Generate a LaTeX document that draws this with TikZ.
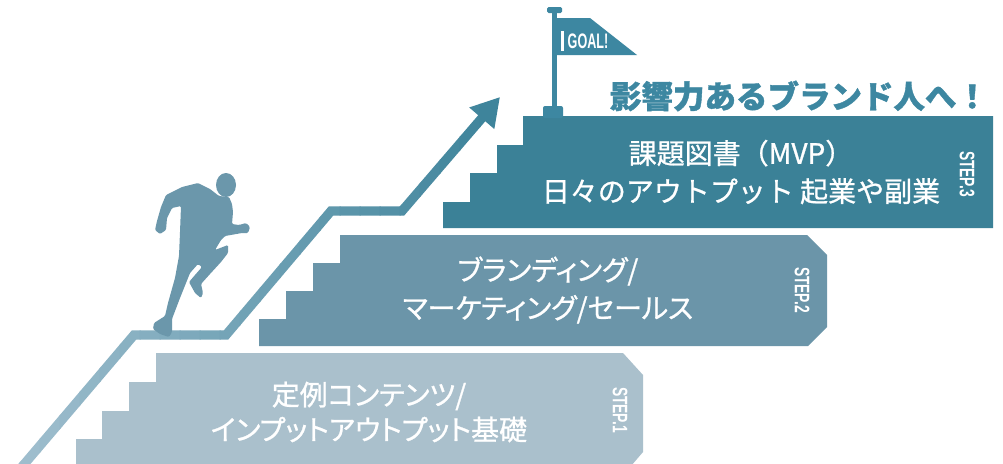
\documentclass[tikz,border=0pt]{standalone}
\usepackage{fontspec}
\setmainfont{Noto Sans CJK JP}
\newfontfamily\jpfont{Noto Sans CJK JP}
\newfontfamily\jpheavy{Noto Sans CJK JP}[FakeBold=1.2]
\newfontfamily\jpmed{Noto Sans CJK JP}[FakeBold=0.9]
\newfontfamily\jpprop{Noto Sans CJK JP}[RawFeature=+palt, FakeBold=0.9]
\newfontfamily\condfont{Liberation Sans}
\usetikzlibrary{arrows.meta}

\definecolor{stepone}{HTML}{AAC0CC}
\definecolor{steptwo}{HTML}{6B95A9}
\definecolor{stepthree}{HTML}{3B8197}
\definecolor{headline}{HTML}{3D87A1}
\definecolor{runner}{HTML}{6B97AB}
\definecolor{pathlow}{HTML}{A2C0CF}
\definecolor{pathhigh}{HTML}{3A8199}

\tikzset{
  stairbody/.style={draw=none},
  steplabel/.style={text=white, align=center, inner sep=0pt},
  steptag/.style={text=white, rotate=-90, inner sep=0pt,
    font=\condfont\bfseries\fontsize{21}{21}\selectfont},
  route/.style={line width=9.3pt, line join=miter,
    -{Triangle[length=28pt,width=31pt]}},
}

\begin{document}
\begin{tikzpicture}[x=1pt,y=-1pt]
\useasboundingbox (0,0) rectangle (1003,463);
\fill[white] (0,0) rectangle (1003,463);
\begin{scope}
\clip (0,0) rectangle (1003,463);

% --- stair blocks ---
\fill[stepone, stairbody] (156,353) -- (623,353) -- (643,375) -- (643,452)
  -- (631,466) -- (76,466) -- (76,439) -- (102,439) -- (102,411)
  -- (129,411) -- (129,382) -- (156,382) -- cycle;
\fill[steptwo, stairbody] (340,235) -- (807,235) -- (827,255) -- (827,327)
  -- (808,346) -- (259,346) -- (259,319) -- (286,319) -- (286,291)
  -- (313,291) -- (313,263) -- (340,263) -- cycle;
\fill[stepthree, stairbody] (523,116) -- (993,116) -- (993,228) -- (443,228)
  -- (443,202) -- (470,202) -- (470,173) -- (497,173) -- (497,145)
  -- (523,145) -- cycle;

% --- rising route with arrow, shaded from light to dark ---
\coordinate (r0) at (15,475);
\coordinate (r1) at (134,335);
\coordinate (r2) at (226,335);
\coordinate (r3) at (331,211);
\coordinate (r4) at (402,211);
\coordinate (r5) at (500,97);
\foreach \i in {0,...,25}{
  \pgfmathtruncatemacro\pct{min(100,\i*4)}
  \begin{scope}
    \clip (\i*20-0.5,-20) rectangle (\i*20+20.5,480);
    \draw[route, color={pathhigh!\pct!pathlow}]
      (r0) -- (r1) -- (r2) -- (r3) -- (r4) -- (r5);
  \end{scope}
}

% --- runner ---
\fill[runner] (226,185) ellipse[x radius=10, y radius=12];
\fill[runner, rounded corners=1.2pt]
  (219,196) -- (210,189) -- (198,183) -- (182,187) -- (166,195)
  -- (161,207) -- (157,221) -- (155,230) -- (160,234) -- (166,230)
  -- (167,218) -- (172,208) -- (181,206) -- (180,232) -- (179,256)
  -- (175,278) -- (168,303) -- (165,316) -- (154,323) -- (153,329)
  -- (160,334) -- (169,337) -- (172,332) -- (172,319) -- (180,298)
  -- (190,273) -- (198,264) -- (202,267) -- (195,275) -- (189,282)
  -- (195,293) -- (201,298) -- (203,293) -- (201,284) -- (210,274)
  -- (221,262) -- (228,253) -- (228,245) -- (215,250) -- (221,240)
  -- (225,236) -- (242,233) -- (248,233) -- (250,227) -- (246,223)
  -- (239,225) -- (232,224) -- (233,212) -- (232,204) -- (229,197)
  -- cycle;

% --- goal flag ---
\fill[headline] (552,10) rectangle (557,110);
\fill[headline, rounded corners=1.5pt] (547,7) rectangle (562,13);
\fill[headline, rounded corners=2pt] (543,106) rectangle (563,118);
\fill[headline] (557,18) -- (590,18) -- (637,55) -- (557,55) -- cycle;
\fill[white] (561,31) rectangle (563.5,51);
\node[text=white, inner sep=0pt, font=\condfont\bfseries\fontsize{21}{21}\selectfont]
  (goal) at (588,41) {\scalebox{0.6}[1]{GOAL!}};

% --- headline ---
\node[text=headline, inner sep=0pt, font=\jpheavy\bfseries\fontsize{31.5}{31.5}\selectfont]
  (title) at (799,96) {影響力あるブランド人へ！};

% --- step texts ---
\node[steplabel, font=\jpmed\fontsize{28}{38}\selectfont] (s3) at (741,172)
  {課題図書（MVP）\\日々のアウトプット 起業や副業};
\node[steplabel, font=\jpprop\fontsize{28}{38}\selectfont] (s2) at (548,290)
  {ブランディング/\\マーケティング/セールス};
\node[steplabel, font=\jpprop\fontsize{28}{35}\selectfont] (s1) at (369,412)
  {定例コンテンツ/\\インプットアウトプット基礎};

\node[steptag] (t3) at (967,174) {\scalebox{0.66}[1]{STEP.3}};
\node[steptag] (t2) at (802,290) {\scalebox{0.66}[1]{STEP.2}};
\node[steptag] (t1) at (620,410) {\scalebox{0.66}[1]{STEP.1}};
\end{scope}
\end{tikzpicture}
\end{document}
